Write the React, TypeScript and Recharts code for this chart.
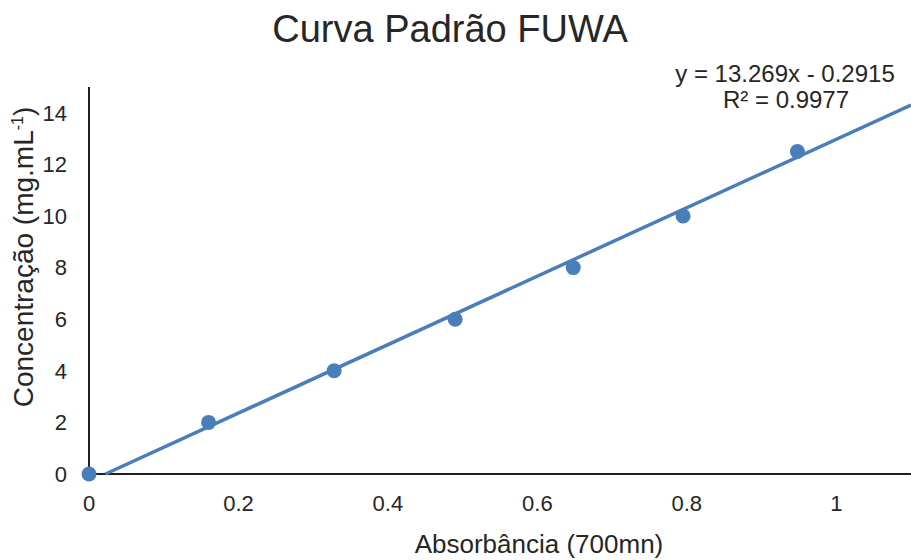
import { ScatterChart, Scatter, XAxis, YAxis } from 'recharts'

const absorbancia = [0, 0.16, 0.328, 0.49, 0.648, 0.795, 0.948]
const concentracao = [0, 2, 4, 6, 8, 10, 12.5]
const trendX = [0.022, 1.1]
const trendY = [0, 14.3]
const xTicks = [0, 0.2, 0.4, 0.6, 0.8, 1]
const yTicks = [0, 2, 4, 6, 8, 10, 12, 14]

const points = absorbancia.map((x, i) => ({ x, y: concentracao[i] }))
const trend = trendX.map((x, i) => ({ x, y: trendY[i] }))

const BLUE = '#4a7ebb'
const FONT = '"Liberation Sans", Arial, sans-serif'
const TEXT = '#262626'

export default function App() {
    return (
        <div style={{ position: 'fixed', left: 0, top: 0, width: 911, height: 560, background: '#fff', fontFamily: FONT }}>
            <ScatterChart width={911} height={560} margin={{ top: 87, right: 0, bottom: 0, left: 0 }} style={{ position: 'absolute', left: 0, top: 0 }}>
                <XAxis
                    type="number"
                    dataKey="x"
                    domain={[0, 1.1]}
                    ticks={xTicks}
                    height={86}
                    tickLine={false}
                    tickMargin={15}
                    axisLine={{ stroke: '#1f1f1f', strokeWidth: 2 }}
                    tick={{ fontSize: 22, fill: TEXT, fontFamily: FONT }}
                />
                <YAxis
                    type="number"
                    dataKey="y"
                    domain={[0, 15]}
                    ticks={yTicks}
                    width={89}
                    tickLine={false}
                    tickMargin={16}
                    axisLine={{ stroke: '#1f1f1f', strokeWidth: 2 }}
                    tick={{ fontSize: 22, fill: TEXT, fontFamily: FONT }}
                />
                <Scatter
                    data={trend}
                    line={{ stroke: BLUE, strokeWidth: 3.5 }}
                    shape={() => null}
                    isAnimationActive={false}
                />
                <Scatter
                    data={points}
                    fill={BLUE}
                    shape={(p: any) => <circle cx={p.cx} cy={p.cy} r={7.5} fill={BLUE} />}
                    isAnimationActive={false}
                />
            </ScatterChart>
            <svg width={911} height={560} style={{ position: 'absolute', left: 0, top: 0, pointerEvents: 'none' }}>
                <g fill={TEXT} fontFamily={FONT}>
                    <text x={450} y={42} fontSize={38} textAnchor="middle">Curva Padrão FUWA</text>
                    <text x={785} y={82} fontSize={24} textAnchor="middle">y = 13.269x - 0.2915</text>
                    <text x={786} y={108} fontSize={24} textAnchor="middle">R² = 0.9977</text>
                    <text x={539} y={553} fontSize={26} textAnchor="middle">Absorbância (700mn)</text>
                    <text x={33} y={257} fontSize={28} textAnchor="middle" transform="rotate(-90 33 257)">
                        Concentração (mg.mL
                        <tspan dy={-10} fontSize={16}>-1</tspan>
                        <tspan dy={10}>)</tspan>
                    </text>
                </g>
            </svg>
        </div>
    )
}
